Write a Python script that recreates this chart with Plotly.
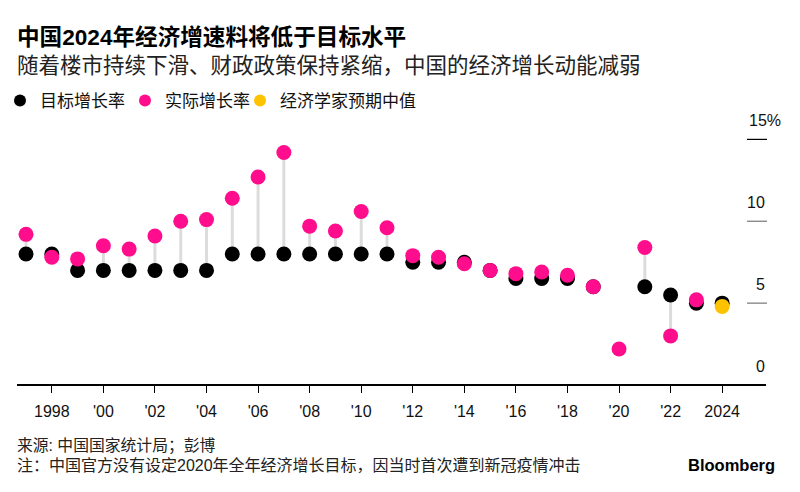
import plotly.graph_objects as go

# ---- data ----
years = list(range(1997, 2025))
target = [8, 8, 7, 7, 7, 7, 7, 7, 8, 8, 8, 8, 8, 8, 8, 7.5, 7.5, 7.5, 7.0, 6.5, 6.5, 6.5, 6.0, None, 6.0, 5.5, 5.0, 5.0]
actual = [9.2, 7.8, 7.7, 8.5, 8.3, 9.1, 10.0, 10.1, 11.4, 12.7, 14.2, 9.7, 9.4, 10.6, 9.6, 7.9, 7.8, 7.4, 7.0, 6.8, 6.9, 6.7, 6.0, 2.2, 8.4, 3.0, 5.2, None]
forecast_years = [2024]
forecast = [4.8]

xtick_vals = list(range(1998, 2025, 2))
xtick_text = ["1998", "'00", "'02", "'04", "'06", "'08", "'10", "'12", "'14", "'16", "'18", "'20", "'22", "2024"]
ytick_vals = [0, 5, 10, 15]
ytick_text = ["0", "5", "10", "15%"]

series_names = ["目标增长率", "实际增长率", "经济学家预期中值"]

title = "中国2024年经济增速料将低于目标水平"
subtitle = "随着楼市持续下滑、财政政策保持紧缩，中国的经济增长动能减弱"
source = "来源: 中国国家统计局；彭博"
note = "注：中国官方没有设定2020年全年经济增长目标，因当时首次遭到新冠疫情冲击"

# ---- styling ----
BLACK = "#000000"
PINK = "#ff0d8c"
YELLOW = "#fdc300"
GREY = "#dcdcdc"
FONT = "Liberation Sans, Noto Sans CJK SC, sans-serif"

W, H = 800, 492
L, R = 17, 766
TOP, BOT = 122.6, 385.5


def py(p):
    return (BOT - p) / (BOT - TOP)


def px(p):
    return (p - L) / (R - L)


# connectors
cx, cy = [], []
for yr, t, a in zip(years, target, actual):
    other = a
    if yr in forecast_years and a is None:
        other = forecast[forecast_years.index(yr)]
    if t is None or other is None:
        continue
    cx += [yr, yr, None]
    cy += [t, other, None]

fig = go.Figure()
fig.add_trace(go.Scatter(x=cx, y=cy, mode="lines", line=dict(color=GREY, width=3),
                         showlegend=False, hoverinfo="skip"))
fig.add_trace(go.Scatter(x=years, y=target, mode="markers", name=series_names[0],
                         marker=dict(color=BLACK, size=15), legend="legend"))
fig.add_trace(go.Scatter(x=years, y=actual, mode="markers", name=series_names[1],
                         marker=dict(color=PINK, size=15), legend="legend2"))
fig.add_trace(go.Scatter(x=forecast_years, y=forecast, mode="markers", name=series_names[2],
                         marker=dict(color=YELLOW, size=15), legend="legend3"))


def leg(dot_x):
    return dict(orientation="h", xref="container", yref="container",
                x=(dot_x - 20) / W, y=1 - 101 / H, xanchor="left", yanchor="middle",
                font=dict(size=17, color="#111111"), itemsizing="constant",
                itemwidth=30, bgcolor="rgba(0,0,0,0)")


fig.update_layout(
    width=W, height=H,
    margin=dict(l=L, r=W - R, t=TOP, b=H - BOT, autoexpand=False),
    paper_bgcolor="white", plot_bgcolor="white",
    font=dict(family=FONT, color="#000000"),
    showlegend=True,
    legend=leg(20), legend2=leg(145), legend3=leg(260),
    xaxis=dict(range=[1996.65, 2025.7], showgrid=False, zeroline=False,
               showline=False, tickvals=xtick_vals, ticktext=xtick_text,
               ticks="outside", ticklen=7, tickcolor="#000000", tickwidth=1,
               ticklabelstandoff=5,
               tickfont=dict(size=16, color="#111111"), automargin=False),
    yaxis=dict(range=[0, 16], showgrid=False, zeroline=True, zerolinecolor="#000000",
               zerolinewidth=1.5, showticklabels=False, ticks="", automargin=False),
)

# right-side short grid marks and labels
for v, t in zip(ytick_vals, ytick_text):
    if v != 0:
        fig.add_shape(type="line", xref="paper", yref="y", x0=px(747), x1=px(767), y0=v, y1=v,
                      line=dict(color="#000000" if v == max(ytick_vals) else "#777777", width=1.2))
    if t.endswith("%"):
        fig.add_annotation(xref="paper", yref="y", x=px(747), y=v, text=t, showarrow=False,
                           xanchor="left", yanchor="bottom", yshift=8,
                           font=dict(size=16, color="#111111"))
    else:
        fig.add_annotation(xref="paper", yref="y", x=px(767), y=v, text=t, showarrow=False,
                           xanchor="right", yanchor="bottom", yshift=8,
                           font=dict(size=16, color="#111111"))

# texts
fig.add_annotation(xref="paper", yref="paper", x=px(17), y=py(37), text="<b>" + title + "</b>",
                   showarrow=False, xanchor="left", yanchor="middle", xshift=-2,
                   font=dict(size=22.6, color="#000000"))
fig.add_annotation(xref="paper", yref="paper", x=px(17), y=py(65), text=subtitle,
                   showarrow=False, xanchor="left", yanchor="middle", xshift=-2,
                   font=dict(size=21.5, color="#222222"))
fig.add_annotation(xref="paper", yref="paper", x=px(17), y=py(447), text=source,
                   showarrow=False, xanchor="left", yanchor="middle", xshift=-2,
                   font=dict(size=15.8, color="#222222"))
fig.add_annotation(xref="paper", yref="paper", x=px(17), y=py(466), text=note,
                   showarrow=False, xanchor="left", yanchor="middle", xshift=-2,
                   font=dict(size=16, color="#222222"))
fig.add_annotation(xref="paper", yref="paper", x=px(777), y=py(466), text="<b>Bloomberg</b>",
                   showarrow=False, xanchor="right", yanchor="middle",
                   font=dict(size=16.5, color="#000000"))

fig.write_html("out.html", config={"displayModeBar": False},
               post_script="document.body.style.margin='0';")
